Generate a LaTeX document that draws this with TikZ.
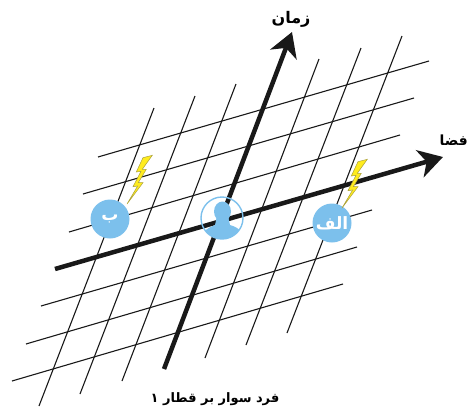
\documentclass[tikz,border=0pt]{standalone}
\usepackage{fontspec}
\usepackage{tikz}
\usetikzlibrary{arrows.meta}
\TeXXeTstate=1
\newfontfamily\arabicfont[Script=Arabic]{DejaVu Sans}
\definecolor{markBlue}{RGB}{124, 192, 236}
\definecolor{boltYellow}{RGB}{255, 236, 30}
\definecolor{boltEdge}{RGB}{170, 160, 60}
\tikzset{
  gridline/.style={black!90, line width=1.1pt},
  axisline/.style={black!90, line width=4.5pt, -{Stealth[length=24pt, width=28pt, inset=7pt]}},
  eventmark/.style={circle, fill=markBlue, text=white, minimum size=39pt, inner sep=0pt, font=\arabicfont\bfseries\fontsize{17}{17}\selectfont},
  axislabel/.style={font=\arabicfont\bfseries\fontsize{16}{16}\selectfont, inner sep=0pt},
  pics/bolt/.style={code={
    \fill[boltYellow, draw=boltEdge, line width=0.5pt] (25.3,-48.7) -- (16,-46.3) -- (9.3,-32) -- (14,-32.7) -- (6,-17.3) -- (10.6,-18) -- (0,0) -- (16,-21.3) -- (11.3,-21.3) -- (19.3,-34.7) -- (15.3,-34.7) -- cycle;
  }}
}
\begin{document}
\begin{tikzpicture}[x=1pt, y=-1pt]
  \useasboundingbox (0,0) rectangle (469,407);
  \foreach \xa/\ya/\xb/\yb in {98/157/429/61, 83/194/414/98, 69/232/400/135, 41/306/372/210, 26/344/357/247, 12/381/343/284}
    \draw[gridline] (\xa,\ya) -- (\xb,\yb);
  \foreach \xa/\ya/\xb/\yb in {39/406/154/108, 80/394/195/96, 122/381/236/84, 205/358/319/59, 246/345/361/48, 287/333/402/36}
    \draw[gridline] (\xa,\ya) -- (\xb,\yb);
  \coordinate (spaceStart) at (55,269);
  \coordinate (spaceEnd) at (443,157);
  \coordinate (timeStart) at (164,369);
  \coordinate (timeEnd) at (292,32);
  \draw[axisline] (spaceStart) -- (spaceEnd);
  \draw[axisline] (timeStart) -- (timeEnd);
  \node[eventmark] (eventB) at (110,219) {\beginR ب\endR};
  \node[eventmark] (eventA) at (332,223) {\beginR الف\endR};
  \begin{scope}
    \clip (222,218) circle (21);
    \fill[markBlue] (222.5,211.5) ellipse (8.5 and 10);
    \fill[markBlue] (217,216) -- (228,216) -- (230,225) .. controls (240,228) and (243,232) .. (245,244) -- (199,244) .. controls (201,233) and (205,229) .. (215,225) -- cycle;
  \end{scope}
  \draw[markBlue, line width=1.4pt] (222,218) circle (21);
  \pic at (127,204) {bolt};
  \pic at (342,208) {bolt};
  \node[axislabel] (timeLabel) at (291,19) {\beginR زمان\endR};
  \node[axislabel, anchor=east, font=\arabicfont\bfseries\fontsize{14}{14}\selectfont] (spaceLabel) at (468,140) {\beginR فضا\endR};
  \node[axislabel, font=\arabicfont\bfseries\fontsize{13}{13}\selectfont] (observerLabel) at (215,399) {\beginR فرد سوار بر قطار ۱\endR};
\end{tikzpicture}
\end{document}
